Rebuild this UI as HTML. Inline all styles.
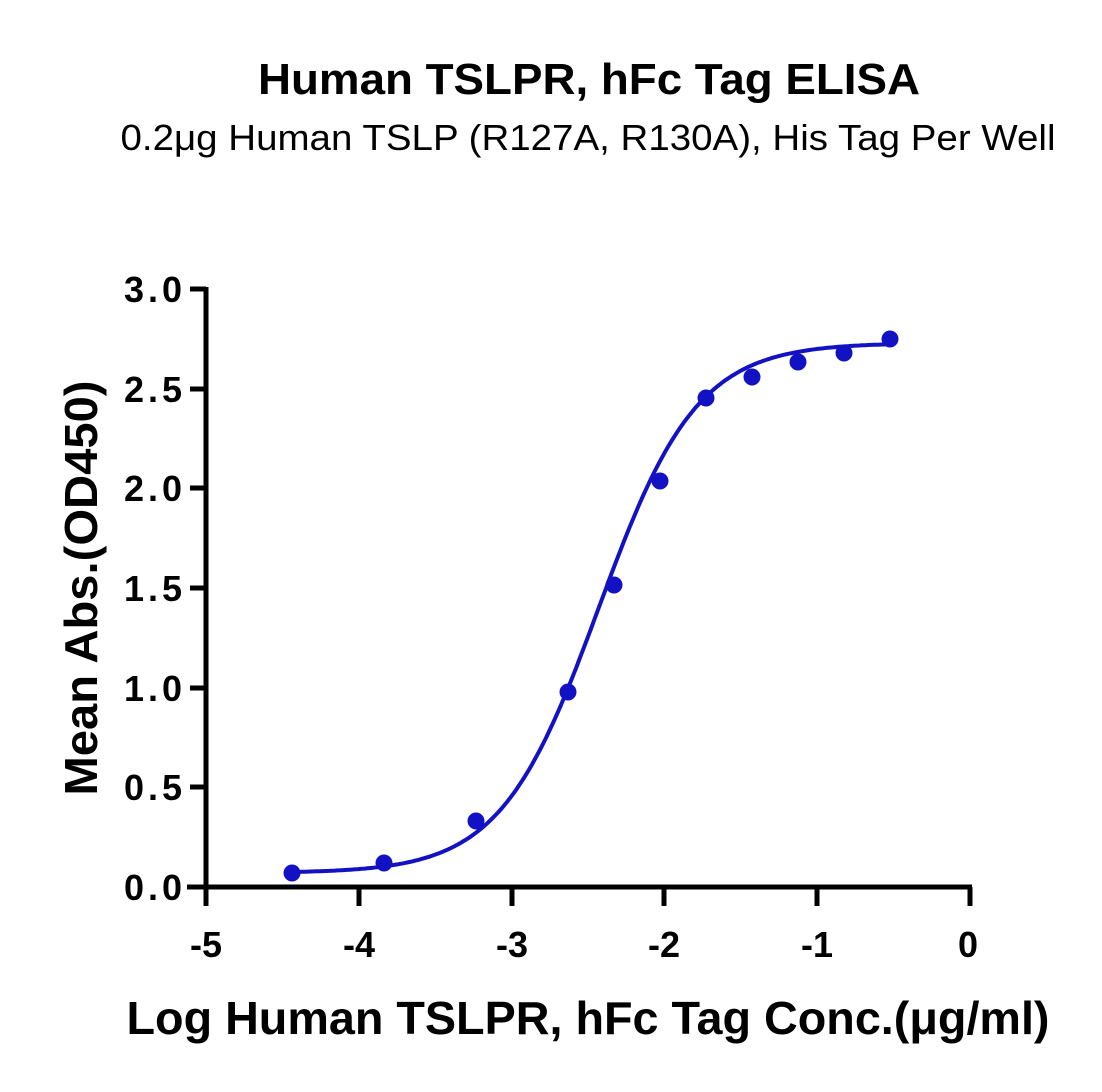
<!DOCTYPE html>
<html><head><meta charset="utf-8"><style>
html,body{margin:0;padding:0;background:#fff;}
svg text{font-family:"Liberation Sans",sans-serif;}
</style></head><body>
<svg width="1102" height="1087" viewBox="0 0 1102 1087" xmlns="http://www.w3.org/2000/svg">
<text x="589" y="94" font-size="44" font-weight="bold" text-anchor="middle" textLength="662" lengthAdjust="spacingAndGlyphs">Human TSLPR, hFc Tag ELISA</text>
<text x="588" y="150" font-size="36" text-anchor="middle" textLength="935" lengthAdjust="spacingAndGlyphs">0.2μg Human TSLP (R127A, R130A), His Tag Per Well</text>
<g stroke="#000" stroke-width="5" fill="none">
<line x1="206" y1="287" x2="206" y2="890"/>
<line x1="187" y1="887" x2="972" y2="887"/>
<line x1="190" y1="289" x2="206" y2="289"/>
<line x1="190" y1="389" x2="206" y2="389"/>
<line x1="190" y1="488" x2="206" y2="488"/>
<line x1="190" y1="588" x2="206" y2="588"/>
<line x1="190" y1="688" x2="206" y2="688"/>
<line x1="190" y1="787" x2="206" y2="787"/>
<line x1="206" y1="887" x2="206" y2="906"/>
<line x1="359" y1="887" x2="359" y2="906"/>
<line x1="512" y1="887" x2="512" y2="906"/>
<line x1="664" y1="887" x2="664" y2="906"/>
<line x1="817" y1="887" x2="817" y2="906"/>
<line x1="970" y1="887" x2="970" y2="906"/>
</g>
<g font-size="36" font-weight="bold" text-anchor="end" lengthAdjust="spacingAndGlyphs">
<text x="182" y="302" textLength="58">3.0</text><text x="182" y="402" textLength="58">2.5</text><text x="182" y="501" textLength="58">2.0</text>
<text x="182" y="601" textLength="58">1.5</text><text x="182" y="701" textLength="58">1.0</text><text x="182" y="800" textLength="58">0.5</text><text x="182" y="900" textLength="58">0.0</text>
</g>
<g font-size="36" font-weight="bold" text-anchor="middle">
<text x="206" y="957">-5</text><text x="359" y="957">-4</text><text x="512" y="957">-3</text>
<text x="664" y="957">-2</text><text x="817" y="957">-1</text><text x="968" y="957">0</text>
</g>
<text x="588" y="1034" font-size="46" font-weight="bold" text-anchor="middle" textLength="923" lengthAdjust="spacingAndGlyphs">Log Human TSLPR, hFc Tag Conc.(μg/ml)</text>
<text transform="translate(97,588) rotate(-90)" font-size="46" font-weight="bold" text-anchor="middle" textLength="415" lengthAdjust="spacingAndGlyphs">Mean Abs.(OD450)</text>
<path id="curve" fill="none" stroke="#1212c4" stroke-width="4" stroke-linejoin="round" d="M293,871.7"/>
<g fill="#1212c4">
<circle cx="292" cy="873" r="8.5"/><circle cx="384" cy="863" r="8.5"/><circle cx="476" cy="821" r="8.5"/>
<circle cx="568" cy="692" r="8.5"/><circle cx="614" cy="585" r="8.5"/><circle cx="660" cy="481" r="8.5"/>
<circle cx="706" cy="398" r="8.5"/><circle cx="752" cy="377" r="8.5"/><circle cx="798" cy="362" r="8.5"/>
<circle cx="844" cy="353" r="8.5"/><circle cx="890" cy="339" r="8.5"/>
</g>
</svg>
<script>
(function(){
var b=0.07,t=2.73,c=-2.43,h=1.35,d="";
for(var i=0;i<=200;i++){
var x=-4.43+(3.9*i/200);
var y=b+(t-b)/(1+Math.pow(10,(c-x)*h));
var px=206+(x+5)*152.8, py=887-y*199.33;
d+=(i?"L":"M")+px.toFixed(1)+","+py.toFixed(1);
}
document.getElementById("curve").setAttribute("d",d);
})();
</script>
</body></html>
